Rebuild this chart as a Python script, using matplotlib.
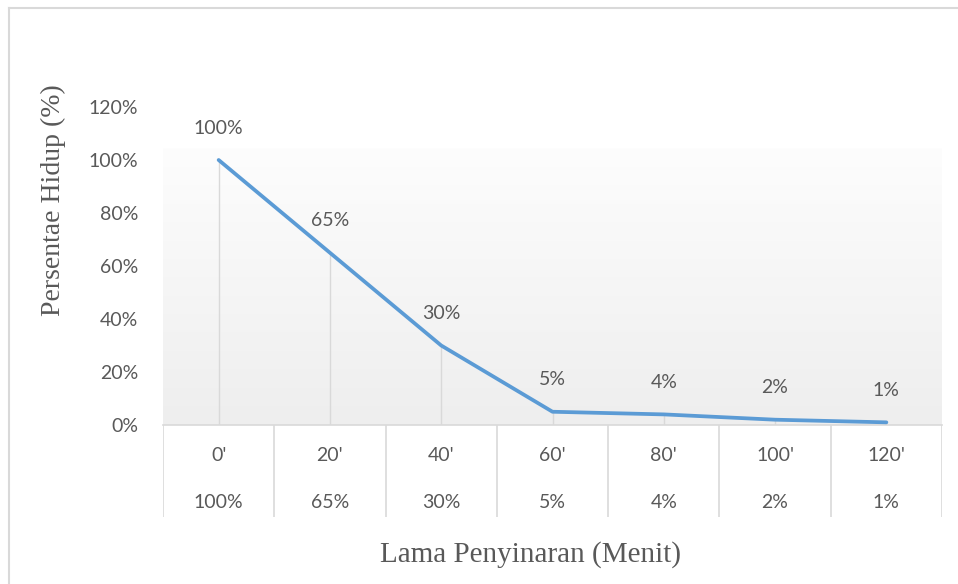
import numpy as np
import matplotlib
matplotlib.use("Agg")
import matplotlib.pyplot as plt
from matplotlib.colors import LinearSegmentedColormap

minutes = ["0'", "20'", "40'", "60'", "80'", "100'", "120'"]
survival = [100, 65, 30, 5, 4, 2, 1]
value_labels = ["100%", "65%", "30%", "5%", "4%", "2%", "1%"]
y_ticks = [0, 20, 40, 60, 80, 100, 120]

W, H = 958, 584
fig = plt.figure(figsize=(W / 100, H / 100), dpi=100)

text_col = "#595959"
grid_col = "#d9d9d9"
sans = ["Lato", "DejaVu Sans"]
serif = ["Liberation Serif", "DejaVu Serif"]
fs = 14

# outer chart border (only top and left visible)
fig.add_artist(plt.Line2D([9 / W, 9 / W], [0, 1 - 8 / H], color="#d9d9d9", lw=1.5))
fig.add_artist(plt.Line2D([9 / W, 1], [1 - 8 / H, 1 - 8 / H], color="#d9d9d9", lw=1.5))

x0, x1 = 163, 942
y_zero, y_top = 425, 107
ax = fig.add_axes([x0 / W, 1 - y_zero / H, (x1 - x0) / W, (y_zero - y_top) / H])

x = np.arange(len(minutes))

# gradient fill of the plot area
cmap = LinearSegmentedColormap.from_list("bg", ["#fdfdfd", "#eeeeee"])
grad = np.linspace(1, 0, 256).reshape(-1, 1)
ax.imshow(grad, cmap=cmap, aspect="auto", origin="lower",
          extent=(-0.5, len(minutes) - 0.5, 0, 104.5), zorder=0)
ax.set_xlim(-0.5, len(minutes) - 0.5)
ax.set_ylim(0, 120)

# drop lines
ax.vlines(x, 0, survival, color=grid_col, lw=1, zorder=1)
ax.plot(x, survival, color="#5b9bd5", lw=2.7, solid_capstyle="round", zorder=3)

for xi, v, lab in zip(x, survival, value_labels):
    ax.annotate(lab, (xi, v), xytext=(0, 23), textcoords="offset points",
                ha="center", va="center", fontsize=fs, color=text_col, family=sans)

for s in ["top", "right", "left"]:
    ax.spines[s].set_visible(False)
ax.spines["bottom"].set_color(grid_col)
ax.spines["bottom"].set_linewidth(1.2)
ax.set_xticks([])
ax.set_yticks(y_ticks)
ax.set_yticklabels([f"{t}%" for t in y_ticks], fontsize=fs, color=text_col, family=sans)
ax.tick_params(axis="y", length=0, pad=18)

# data table under the axis
tab_bottom = 517
tax = fig.add_axes([x0 / W, 1 - tab_bottom / H, (x1 - x0) / W, (tab_bottom - y_zero) / H])
tax.set_xlim(-0.5, len(minutes) - 0.5)
tax.set_ylim(0, 1)
tax.axis("off")
tax.vlines(np.arange(len(minutes) + 1) - 0.5, 0, 1, color=grid_col, lw=1.2)
for xi, m, lab in zip(x, minutes, value_labels):
    tax.text(xi, 0.67, m, ha="center", va="center", fontsize=fs, color=text_col, family=sans)
    tax.text(xi, 0.16, lab, ha="center", va="center", fontsize=fs, color=text_col, family=sans)

fig.text(530 / W, 1 - 555 / H, "Lama Penyinaran (Menit)", ha="center", va="center",
         fontsize=21, color=text_col, family=serif)
fig.text(53 / W, 1 - 200 / H, "Persentae Hidup (%)", ha="center", va="center",
         rotation=90, fontsize=20, color=text_col, family=serif)

fig.savefig("out.png", dpi=100)
